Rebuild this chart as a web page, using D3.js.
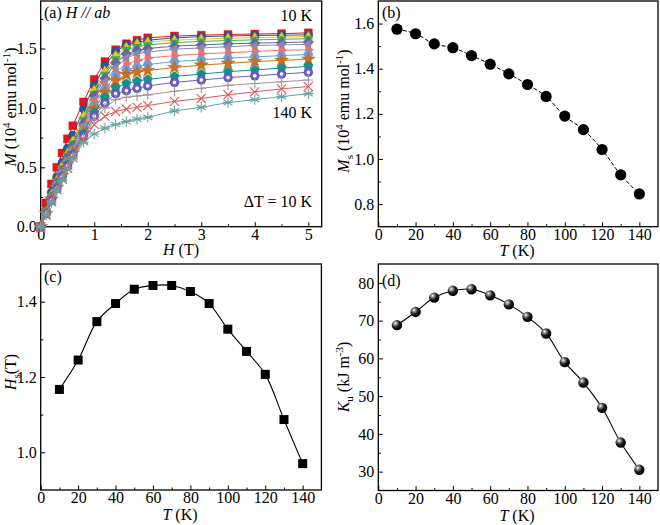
<!DOCTYPE html>
<html><head><meta charset="utf-8">
<script src="https://cdn.jsdelivr.net/npm/d3@7"></script>
<style>
body{margin:0;background:#fff;}
svg text{font-family:"Liberation Serif","Times New Roman",serif;}
</style>
</head><body>
<svg id="chart" width="660" height="525"></svg>
<script>
// ---------------- DATA ----------------
const H_FIELD = [0, 0.1, 0.2, 0.3, 0.4, 0.5, 0.6, 0.8, 1.0, 1.2, 1.4, 1.6, 1.8, 2.0, 2.5, 3.0, 3.5, 4.0, 4.5, 5.0];
const TEMPS = [10, 20, 30, 40, 50, 60, 70, 80, 90, 100, 110, 120, 130, 140];

const M_10K  = [0, 0.20, 0.36, 0.50, 0.62, 0.74, 0.85, 1.05, 1.24, 1.39, 1.49, 1.54, 1.57, 1.59, 1.605, 1.612, 1.618, 1.622, 1.625, 1.632];
const M_20K  = [0, 0.14, 0.29, 0.42, 0.54, 0.66, 0.77, 0.99, 1.19, 1.355, 1.475, 1.53, 1.55, 1.57, 1.59, 1.60, 1.605, 1.61, 1.612, 1.615];
const M_30K  = [0, 0.13, 0.27, 0.39, 0.51, 0.62, 0.72, 0.93, 1.15, 1.31, 1.44, 1.51, 1.54, 1.555, 1.57, 1.58, 1.587, 1.592, 1.596, 1.60];
const M_40K  = [0, 0.13, 0.26, 0.38, 0.49, 0.60, 0.70, 0.90, 1.12, 1.28, 1.41, 1.49, 1.515, 1.53, 1.55, 1.56, 1.567, 1.573, 1.578, 1.582];
const M_50K  = [0, 0.12, 0.25, 0.37, 0.47, 0.58, 0.68, 0.87, 1.10, 1.25, 1.38, 1.455, 1.485, 1.50, 1.52, 1.53, 1.54, 1.545, 1.55, 1.555];
const M_60K  = [0, 0.12, 0.24, 0.36, 0.46, 0.56, 0.66, 0.85, 1.07, 1.22, 1.34, 1.42, 1.455, 1.47, 1.495, 1.505, 1.515, 1.525, 1.53, 1.535];
const M_70K  = [0, 0.12, 0.24, 0.35, 0.45, 0.55, 0.64, 0.83, 1.05, 1.19, 1.30, 1.37, 1.40, 1.42, 1.44, 1.455, 1.465, 1.475, 1.485, 1.49];
const M_80K  = [0, 0.11, 0.23, 0.34, 0.44, 0.54, 0.63, 0.81, 1.02, 1.16, 1.27, 1.32, 1.345, 1.365, 1.39, 1.405, 1.42, 1.43, 1.44, 1.45];
const M_90K  = [0, 0.11, 0.23, 0.33, 0.43, 0.53, 0.62, 0.79, 0.99, 1.13, 1.23, 1.28, 1.30, 1.315, 1.34, 1.36, 1.375, 1.39, 1.40, 1.41];
const M_100K = [0, 0.11, 0.22, 0.33, 0.42, 0.52, 0.61, 0.78, 0.96, 1.09, 1.17, 1.205, 1.225, 1.24, 1.265, 1.285, 1.305, 1.32, 1.335, 1.35];
const M_110K = [0, 0.11, 0.22, 0.32, 0.42, 0.51, 0.60, 0.76, 0.93, 1.04, 1.12, 1.145, 1.165, 1.185, 1.215, 1.235, 1.255, 1.27, 1.285, 1.30];
const M_120K = [0, 0.10, 0.21, 0.31, 0.41, 0.50, 0.59, 0.75, 0.90, 1.00, 1.07, 1.09, 1.10, 1.11, 1.14, 1.165, 1.19, 1.205, 1.22, 1.235];
const M_130K = [0, 0.10, 0.21, 0.31, 0.40, 0.49, 0.58, 0.73, 0.86, 0.93, 0.97, 0.99, 1.005, 1.02, 1.055, 1.08, 1.11, 1.135, 1.16, 1.18];
const M_140K = [0, 0.10, 0.20, 0.30, 0.39, 0.48, 0.57, 0.71, 0.78, 0.83, 0.86, 0.885, 0.905, 0.92, 0.975, 1.005, 1.045, 1.07, 1.095, 1.12];
const M_SERIES = [M_10K, M_20K, M_30K, M_40K, M_50K, M_60K, M_70K, M_80K, M_90K, M_100K, M_110K, M_120K, M_130K, M_140K];

const T_AXIS = [10, 20, 30, 40, 50, 60, 70, 80, 90, 100, 110, 120, 130, 140];
const MS_VALUES = [1.575, 1.555, 1.51, 1.493, 1.458, 1.42, 1.377, 1.33, 1.277, 1.19, 1.13, 1.042, 0.93, 0.845];
const HS_VALUES = [1.167, 1.245, 1.347, 1.395, 1.433, 1.443, 1.443, 1.427, 1.395, 1.327, 1.268, 1.207, 1.087, 0.97];
const KU_VALUES = [68.8, 72.3, 76.1, 77.9, 78.3, 76.7, 74.3, 71.0, 66.6, 59.0, 53.6, 46.9, 37.7, 30.5];

const TICKS_A_X = [0, 1, 2, 3, 4, 5];
const TICKS_A_Y = [0, 0.5, 1.0, 1.5];
const TICKS_T = [0, 20, 40, 60, 80, 100, 120, 140];
const TICKS_B_Y = [0.8, 1.0, 1.2, 1.4, 1.6];
const TICKS_C_Y = [1.0, 1.2, 1.4];
const TICKS_D_Y = [30, 40, 50, 60, 70, 80];

// ---------------- STYLES ----------------
const SERIES_COLORS = ["#e8141b", "#245a8f", "#f2c21a", "#48b04c", "#5d6a9c", "#8e89aa", "#f26f6f", "#6e9fd9", "#c9701c", "#13918d", "#6b5ec6", "#a59595", "#e25656", "#66a3a3"];
const SERIES_SHAPES = ["square", "circle", "triUp", "triDown", "diamond", "triLeft", "triRight", "hexagon", "star", "pentagon", "dotCircle", "plus", "cross", "asterisk"];

const svg = d3.select("#chart");
const FONT = "'Liberation Serif','Times New Roman',serif";
const FS = 16;
const defs = svg.append("defs");
const sphere = defs.append("radialGradient").attr("id", "sphere").attr("cx", "35%").attr("cy", "32%").attr("r", "65%");
sphere.append("stop").attr("offset", "0%").attr("stop-color", "#ffffff");
sphere.append("stop").attr("offset", "25%").attr("stop-color", "#8a8a8a");
sphere.append("stop").attr("offset", "60%").attr("stop-color", "#1a1a1a");
sphere.append("stop").attr("offset", "100%").attr("stop-color", "#000000");
const psphere = defs.append("radialGradient").attr("id", "psphere").attr("cx", "50%").attr("cy", "50%").attr("r", "50%");
psphere.append("stop").attr("offset", "0%").attr("stop-color", "#ffffff");
psphere.append("stop").attr("offset", "28%").attr("stop-color", "#ffffff");
psphere.append("stop").attr("offset", "45%").attr("stop-color", "#7468cc");
psphere.append("stop").attr("offset", "100%").attr("stop-color", "#5a4eb5");

function poly(n, r, rot) {
  const pts = [];
  for (let i = 0; i < n; i++) {
    const a = rot + i * 2 * Math.PI / n;
    pts.push([r * Math.cos(a), r * Math.sin(a)]);
  }
  return "M" + pts.map(p => p[0].toFixed(2) + "," + p[1].toFixed(2)).join("L") + "Z";
}
function drawMarker(g, shape, cx, cy, color) {
  const t = `translate(${cx},${cy})`;
  const filled = (d) => g.append("path").attr("d", d).attr("transform", t).attr("fill", color).attr("stroke", d3.color(color).darker(0.3)).attr("stroke-width", 0.4);
  const lines = (d) => g.append("path").attr("d", d).attr("transform", t).attr("fill", "none").attr("stroke", color).attr("stroke-width", 1.1);
  switch (shape) {
    case "square": filled("M-4,-4H4V4H-4Z"); break;
    case "circle": filled(d3.symbol(d3.symbolCircle, 56)()); break;
    case "triUp": filled(poly(3, 5.4, -Math.PI / 2)); break;
    case "triDown": filled(poly(3, 5.4, Math.PI / 2)); break;
    case "diamond": filled(poly(4, 5.3, -Math.PI / 2)); break;
    case "triLeft": filled(poly(3, 5.4, Math.PI)); break;
    case "triRight": filled(poly(3, 5.4, 0)); break;
    case "hexagon": filled(poly(6, 4.8, 0)); break;
    case "star": filled(d3.symbol(d3.symbolStar, 62)()); break;
    case "pentagon": filled(poly(5, 4.9, -Math.PI / 2)); break;
    case "dotCircle":
      g.append("circle").attr("cx", cx).attr("cy", cy).attr("r", 4.7).attr("fill", "url(#psphere)");
      break;
    case "plus": lines("M-5,0H5M0,-5V5"); break;
    case "cross": lines("M-4.6,-4.6L4.6,4.6M-4.6,4.6L4.6,-4.6"); break;
    case "asterisk": lines("M0,-5.2V5.2M-4.5,-2.6L4.5,2.6M-4.5,2.6L4.5,-2.6M-5.2,0H5.2"); break;
  }
}

function panel(cfg) {
  const g = svg.append("g");
  const x = d3.scaleLinear().domain(cfg.xd).range([cfg.l, cfg.r]);
  const y = d3.scaleLinear().domain(cfg.yd).range([cfg.b, cfg.t]);
  const style = sel => {
    sel.attr("font-family", FONT).attr("font-size", FS);
    sel.select(".domain").remove();
    sel.selectAll(".tick line").attr("stroke", "#000").attr("stroke-width", 1);
    sel.selectAll(".tick text").attr("fill", "#000");
  };
  g.append("g").attr("transform", `translate(0,${cfg.b})`)
    .call(d3.axisBottom(x).tickValues(cfg.xMaj).tickSize(-4.5).tickPadding(2).tickFormat(cfg.xf)).call(style);
  g.append("g").attr("transform", `translate(0,${cfg.b})`)
    .call(d3.axisBottom(x).tickValues(cfg.xMin).tickSize(-2.5).tickFormat("")).call(style);
  g.append("g").attr("transform", `translate(${cfg.l},0)`)
    .call(d3.axisLeft(y).tickValues(cfg.yMaj).tickSize(-4.5).tickPadding(4).tickFormat(cfg.yf)).call(style);
  g.append("g").attr("transform", `translate(${cfg.l},0)`)
    .call(d3.axisLeft(y).tickValues(cfg.yMin).tickSize(-2.5).tickFormat("")).call(style);
  g.append("rect").attr("x", cfg.l).attr("y", cfg.t).attr("width", cfg.r - cfg.l).attr("height", cfg.b - cfg.t)
    .attr("fill", "none").attr("stroke", "#000").attr("stroke-width", 1.3);
  return { g, x, y };
}

function label(g, x, y, parts, opts = {}) {
  const t = g.append("text").attr("x", x).attr("y", y).attr("font-family", FONT).attr("font-size", opts.size || FS)
    .attr("fill", "#000").attr("text-anchor", opts.anchor || "start");
  if (opts.rotate) t.attr("transform", `rotate(-90,${x},${y})`);
  let shift = 0;
  parts.forEach(p => {
    const s = t.append("tspan").text(p.t);
    let target = 0;
    if (p.sup) { target = -6; s.attr("font-size", 11); }
    if (p.sub) { target = 4; s.attr("font-size", 11); }
    if (target !== shift) { s.attr("dy", target - shift); shift = target; }
    if (p.i) s.attr("font-style", "italic");
  });
  return t;
}

const f1 = d3.format(".1f");

// ---------------- PANEL (a) ----------------
{
  const P = panel({ l: 40.7, r: 321.7, t: 1, b: 226.7, xd: [0, 5.25], yd: [0, 1.9],
    xMaj: TICKS_A_X, xMin: [0.5, 1.5, 2.5, 3.5, 4.5], xf: d3.format("d"),
    yMaj: TICKS_A_Y, yMin: [0.25, 0.75, 1.25, 1.75], yf: f1 });
  const line = d3.line().x((d, i) => P.x(H_FIELD[i])).y(d => P.y(d));
  M_SERIES.forEach((ser, k) => {
    const sg = P.g.append("g");
    sg.append("path").attr("d", line(ser)).attr("fill", "none").attr("stroke", SERIES_COLORS[k]).attr("stroke-width", 1);
    ser.forEach((v, i) => drawMarker(sg, SERIES_SHAPES[k], P.x(H_FIELD[i]), P.y(v), SERIES_COLORS[k]));
  });
  label(P.g, 44, 18, [{ t: "(a) " }, { t: "H", i: 1 }, { t: " // ", i: 1 }, { t: "ab", i: 1 }]);
  label(P.g, 312, 21, [{ t: TEMPS[0] + " K" }], { anchor: "end" });
  label(P.g, 312, 118, [{ t: TEMPS[TEMPS.length - 1] + " K" }], { anchor: "end" });
  label(P.g, 312, 207, [{ t: "ΔT = 10 K" }], { anchor: "end" });
  label(P.g, 181, 255, [{ t: "H", i: 1 }, { t: " (T)" }], { anchor: "middle" });
  label(P.g, 16, 107, [{ t: "M", i: 1 }, { t: " (10" }, { t: "4", sup: 1 }, { t: " emu mol" }, { t: "-1", sup: 1 }, { t: ")" }], { anchor: "middle", rotate: 1 });
}

// ---------------- PANEL (b) ----------------
{
  const P = panel({ l: 378.3, r: 658, t: 1, b: 226.7, xd: [0, 150], yd: [0.7, 1.7],
    xMaj: TICKS_T, xMin: [10, 30, 50, 70, 90, 110, 130], xf: d3.format("d"),
    yMaj: TICKS_B_Y, yMin: [0.9, 1.1, 1.3, 1.5], yf: f1 });
  const line = d3.line().curve(d3.curveCatmullRom).x((d, i) => P.x(T_AXIS[i])).y(d => P.y(d));
  P.g.append("path").attr("d", line(MS_VALUES)).attr("fill", "none").attr("stroke", "#000").attr("stroke-width", 1).attr("stroke-dasharray", "4,2");
  P.g.selectAll("circle.m").data(MS_VALUES).join("circle").attr("class", "m")
    .attr("cx", (d, i) => P.x(T_AXIS[i])).attr("cy", d => P.y(d)).attr("r", 5.6).attr("fill", "#000");
  label(P.g, 382, 18, [{ t: "(b)" }]);
  label(P.g, 517, 256, [{ t: "T", i: 1 }, { t: " (K)" }], { anchor: "middle" });
  label(P.g, 349, 111, [{ t: "M", i: 1 }, { t: "s", sub: 1 }, { t: " (10" }, { t: "4", sup: 1 }, { t: " emu mol" }, { t: "-1", sup: 1 }, { t: ")" }], { anchor: "middle", rotate: 1 });
}

// ---------------- PANEL (c) ----------------
{
  const P = panel({ l: 40.7, r: 321.4, t: 264, b: 490, xd: [0, 150], yd: [0.9, 1.5],
    xMaj: TICKS_T, xMin: [10, 30, 50, 70, 90, 110, 130], xf: d3.format("d"),
    yMaj: TICKS_C_Y, yMin: [1.1, 1.3], yf: f1 });
  const line = d3.line().curve(d3.curveCatmullRom).x((d, i) => P.x(T_AXIS[i])).y(d => P.y(d));
  P.g.append("path").attr("d", line(HS_VALUES)).attr("fill", "none").attr("stroke", "#000").attr("stroke-width", 1.1);
  P.g.selectAll("rect.m").data(HS_VALUES).join("rect").attr("class", "m")
    .attr("x", (d, i) => P.x(T_AXIS[i]) - 4.5).attr("y", d => P.y(d) - 4.5).attr("width", 9).attr("height", 9).attr("fill", "#000");
  label(P.g, 44, 282, [{ t: "(c)" }]);
  label(P.g, 180, 520, [{ t: "T", i: 1 }, { t: " (K)" }], { anchor: "middle" });
  label(P.g, 16, 372, [{ t: "H", i: 1 }, { t: "s", sub: 1 }, { t: "(T)" }], { anchor: "middle", rotate: 1 });
}

// ---------------- PANEL (d) ----------------
{
  const P = panel({ l: 378.3, r: 658, t: 264, b: 490.5, xd: [0, 150], yd: [25, 85],
    xMaj: TICKS_T, xMin: [10, 30, 50, 70, 90, 110, 130], xf: d3.format("d"),
    yMaj: TICKS_D_Y, yMin: [35, 45, 55, 65, 75], yf: d3.format("d") });
  const line = d3.line().curve(d3.curveCatmullRom).x((d, i) => P.x(T_AXIS[i])).y(d => P.y(d));
  P.g.append("path").attr("d", line(KU_VALUES)).attr("fill", "none").attr("stroke", "#000").attr("stroke-width", 1.1);
  P.g.selectAll("circle.m").data(KU_VALUES).join("circle").attr("class", "m")
    .attr("cx", (d, i) => P.x(T_AXIS[i])).attr("cy", d => P.y(d)).attr("r", 5.2).attr("fill", "url(#sphere)");
  label(P.g, 382, 286, [{ t: "(d)" }]);
  label(P.g, 517, 521, [{ t: "T", i: 1 }, { t: " (K)" }], { anchor: "middle" });
  label(P.g, 349, 377, [{ t: "K", i: 1 }, { t: "u", sub: 1 }, { t: " (kJ m" }, { t: "-3", sup: 1 }, { t: ")" }], { anchor: "middle", rotate: 1 });
}
</script>
</body></html>
